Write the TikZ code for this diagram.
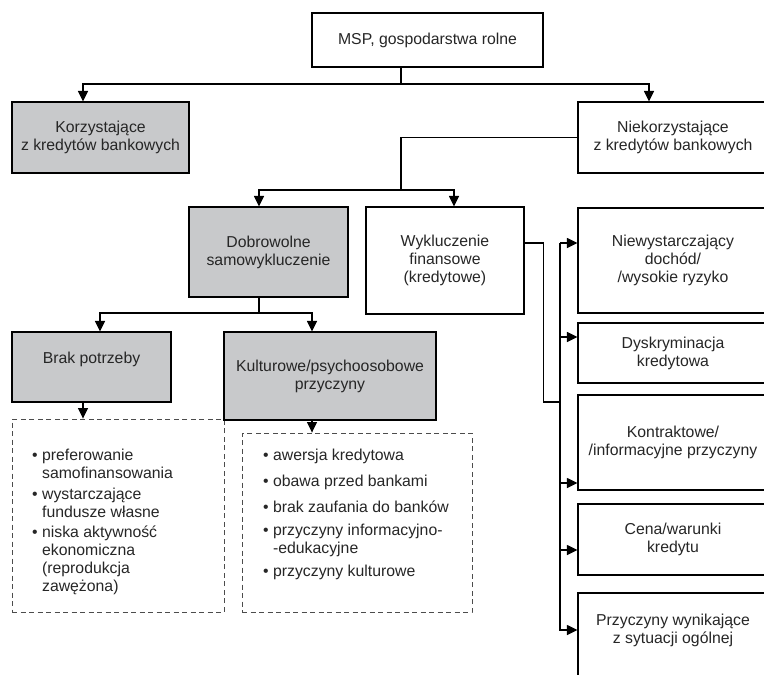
\documentclass[tikz,border=0pt]{standalone}
\usepackage{fontspec}
\setmainfont{Liberation Sans}
\usepackage{tikz}
\usetikzlibrary{arrows.meta,calc,positioning}
\definecolor{boxgray}{RGB}{200,201,203}
\newcommand{\cont}{\phantom{\textbullet\ }}

\begin{document}
\begin{tikzpicture}[x=1pt, y=-1pt,
    every node/.style={font=\fontsize{15.8}{18}\selectfont, text=black!85},
    conn/.style={line width=1.1pt},
    box/.style={draw, line width=1.1pt, fill=white, align=center, inner sep=0pt},
    greybox/.style={box, fill=boxgray},
    listbox/.style={draw=black!70, dash pattern=on 5pt off 3.5pt, line width=0.9pt, inner sep=0pt},
    listtext/.style={anchor=north west, align=left, inner sep=0pt},
    arr/.style={conn, -{Triangle[length=10.5pt,width=10pt]}}]

    \path [use as bounding box, clip] (0,0) rectangle (764,675);

    % dashed lists first, the grey boxes overlap them
    \node (needs) [listbox, minimum width=212pt, minimum height=193pt] at (118,515.5) {};
    \node (cult) [listbox, minimum width=230pt, minimum height=179pt] at (357,522.5) {};

    \node (msp) [box, minimum width=231pt, minimum height=54pt] at (427.5,40) {MSP, gospodarstwa rolne};
    \node (korz) [greybox, minimum width=177pt, minimum height=71pt] at (100.5,137.5) {Korzystające\\z kredytów bankowych};
    \node (niek) [box, minimum width=190pt, minimum height=71pt] at (673,137.5) {Niekorzystające\\z kredytów bankowych};
    \node (dobr) [greybox, minimum width=159pt, minimum height=90pt] at (268.5,252) {Dobrowolne\\samowykluczenie};
    \node (wyk) [box, minimum width=158pt, minimum height=107pt] at (445,260.5) {Wykluczenie\\finansowe\\(kredytowe)};
    \node (brak) [greybox, minimum width=159pt, minimum height=70pt] at (91.5,367) {Brak potrzeby\\\mbox{}};
    \node (kult) [greybox, minimum width=212pt, minimum height=88pt] at (330,376) {Kulturowe/psychoosobowe\\przyczyny};

    \node (needtxt) [listtext] at (32,449) {\textbullet\ preferowanie\\
        \cont samofinansowania\\[3pt]
        \textbullet\ wystarczające\\
        \cont fundusze własne\\[2pt]
        \textbullet\ niska aktywność\\
        \cont ekonomiczna\\
        \cont (reprodukcja\\
        \cont zawężona)};
    \node (culttxt) [listtext] at (263,449) {\textbullet\ awersja kredytowa\\[8pt]
        \textbullet\ obawa przed bankami\\[8pt]
        \textbullet\ brak zaufania do banków\\[5pt]
        \textbullet\ przyczyny informacyjno-\\
        \cont -edukacyjne\\[5pt]
        \textbullet\ przyczyny kulturowe};

    % right column
    \node (r1) [box, minimum width=190pt, minimum height=105pt] at (673,260.5) {Niewystarczający\\dochód/\\/wysokie ryzyko};
    \node (r2) [box, minimum width=190pt, minimum height=60pt] at (673,353) {Dyskryminacja\\kredytowa};
    \node (r3) [box, minimum width=190pt, minimum height=95pt] at (673,442.5) {Kontraktowe/\\/informacyjne przyczyny};
    \node (r4) [box, minimum width=190pt, minimum height=71pt] at (673,539.5) {Cena/warunki\\kredytu};
    \node (r5) [box, minimum width=190pt, minimum height=90pt] at (673,638) {Przyczyny wynikające\\z sytuacji ogólnej\\\mbox{}};

    \coordinate (s1) at (401,84);
    \coordinate (s2) at (401,190);
    \coordinate (s3) at (259,313);
    \coordinate (bus) at (560,402);
    \coordinate (a1) at (560,243);
    \coordinate (a2) at (560,337);
    \coordinate (a3) at (560,483);
    \coordinate (a4) at (560,550);
    \coordinate (a5) at (560,630);
    \coordinate (b1) at ([xshift=-8.5pt]brak.south);
    \coordinate (b2) at ([xshift=-18pt]kult.south);

    \draw [conn] (msp.south -| s1) -- (s1);
    \draw [arr] (s1) -| ([xshift=-17.5pt]korz.north);
    \draw [arr] (s1) -| ([xshift=-24pt]niek.north);

    \draw [conn] (niek.west) -| (s2);
    \draw [arr] (s2) -| ([xshift=-9.5pt]dobr.north);
    \draw [arr] (s2) -| ([xshift=9pt]wyk.north);

    \draw [conn] (dobr.south -| s3) -- (s3);
    \draw [arr] (s3) -| ([xshift=8.5pt]brak.north);
    \draw [arr] (s3) -| ([xshift=-18pt]kult.north);

    \draw [arr] (b1) -- (b1 |- needs.north);
    \draw [arr] (b2) -- (b2 |- cult.north);

    \draw [conn] (wyk.east |- a1) -- ++(19,0) |- (bus);
    \draw [arr] (a1) |- (r5.west |- a5);
    \foreach \i in {1,...,4}
        \draw [arr] (a\i) -- (r\i.west |- a\i);
\end{tikzpicture}
\end{document}
